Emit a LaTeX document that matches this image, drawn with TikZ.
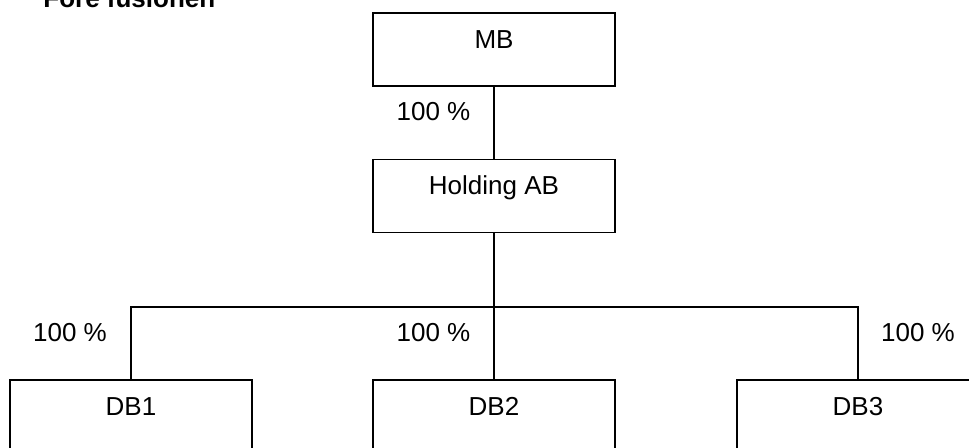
\documentclass[tikz,border=0pt]{standalone}
\usepackage{fontspec}
\setmainfont{Liberation Sans}
\usetikzlibrary{positioning}

\begin{document}
\begin{tikzpicture}[
  x=0.5pt, y=-0.5pt,
  every node/.style={font=\fontsize{13}{15.6}\selectfont},
  org/.style={draw=black, line width=0.8pt, minimum width=121pt, minimum height=36.5pt,
              inner sep=0pt, text height=9pt, text depth=10.5pt, align=center},
  pct/.style={anchor=base, inner sep=0pt},
  ttl/.style={anchor=base west, inner sep=0pt, font=\fontsize{13}{15.6}\selectfont\bfseries},
  ln/.style={line width=0.8pt}
]
\useasboundingbox (0,0) rectangle (969,447);
\clip (0,0) rectangle (969,447);

\node[ttl] (title) at (43,7) {Före fusionen};

\node[org] (mb)   at (494,49.5)  {MB};
\node[org] (hold) at (494,196)   {Holding AB};
\node[org] (db1)  at (131,416.5) {DB1};
\node[org] (db2)  at (494,416.5) {DB2};
\node[org] (db3)  at (858,416.5) {DB3};

\coordinate (bar) at (494,306.7);

\draw[ln] (mb) -- (hold);
\draw[ln] (hold) -- (bar);
\draw[ln] (bar) -| (db1);
\draw[ln] (bar) -- (db2);
\draw[ln] (bar) -| (db3);

\node[pct] (p0) at (433.5,120.7) {100 \%};
\node[pct] (p1) at (70,341.7)    {100 \%};
\node[pct] (p2) at (433.5,341.7) {100 \%};
\node[pct] (p3) at (918,341.7)   {100 \%};

\end{tikzpicture}
\end{document}
